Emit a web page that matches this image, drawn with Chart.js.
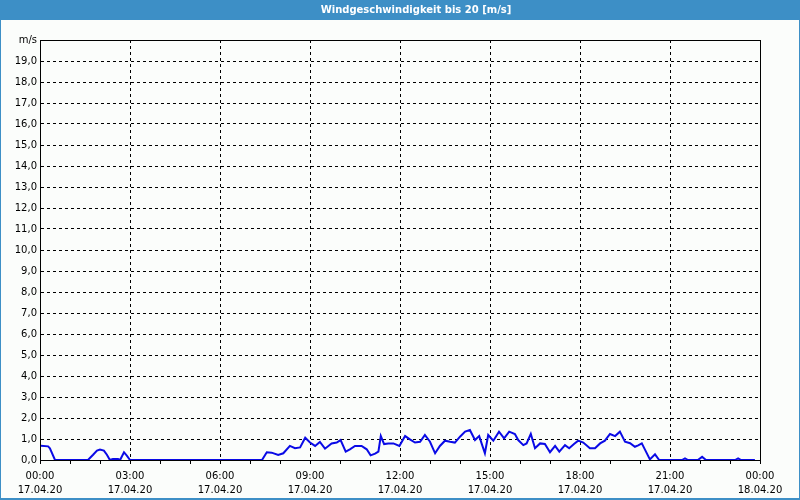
<!DOCTYPE html>
<html>
<head>
<meta charset="utf-8">
<script src="https://cdn.jsdelivr.net/npm/chart.js@4/dist/chart.umd.min.js"></script>
<style>
html,body{margin:0;padding:0;background:#fbfdfb;}
#wrap{width:800px;height:500px;position:relative;}
</style>
</head>
<body>
<div id="wrap"><canvas id="c" width="800" height="500"></canvas></div>
<script>
const chartTitle = 'Windgeschwindigkeit bis 20 [m/s]';
const yUnit = 'm/s';
// time of day in hours since 17.04.20 00:00
const hours = [0.03,0.27,0.33,0.5,1.6,1.77,1.9,2.0,2.13,2.23,2.33,2.43,2.6,2.67,2.8,2.9,3.0,
  7.4,7.56,7.72,7.94,8.11,8.33,8.5,8.67,8.84,9.0,9.17,9.33,9.5,9.72,9.89,10.02,10.19,10.33,10.5,10.72,10.89,
  11.02,11.17,11.28,11.36,11.47,11.61,11.78,11.98,12.17,12.33,12.5,12.67,12.83,13.0,13.17,13.33,13.5,13.67,13.83,
  14.0,14.17,14.33,14.5,14.64,14.72,14.83,14.94,15.11,15.3,15.47,15.64,15.83,15.94,16.11,16.22,16.36,16.5,16.67,16.83,
  17.0,17.17,17.31,17.5,17.64,17.8,17.94,18.11,18.33,18.5,18.67,18.83,19.0,19.17,19.33,19.5,19.67,19.83,19.94,
  20.06,20.17,20.33,20.5,20.64,21.4,21.5,21.6,21.93,22.07,22.2,23.17,23.27,23.37,23.83];
const speeds = [0.68,0.65,0.56,0,0,0.25,0.45,0.5,0.45,0.25,0,0.05,0.05,0,0.37,0.2,0,
  0,0.37,0.35,0.24,0.32,0.67,0.56,0.6,1.06,0.83,0.67,0.86,0.54,0.79,0.83,0.95,0.4,0.51,0.67,0.67,0.51,
  0.22,0.3,0.4,1.14,0.76,0.79,0.79,0.67,1.14,0.98,0.83,0.87,1.19,0.87,0.32,0.67,0.92,0.87,0.83,
  1.11,1.35,1.43,0.95,1.14,0.79,0.32,1.19,0.92,1.35,1.03,1.35,1.24,0.95,0.71,0.79,1.24,0.56,0.79,0.76,
  0.37,0.67,0.4,0.71,0.56,0.76,0.92,0.83,0.56,0.56,0.79,0.92,1.24,1.14,1.35,0.87,0.8,0.63,0.7,
  0.79,0.48,0.03,0.27,0,0,0.08,0,0,0.15,0,0,0.08,0,0];
const xTickTimes = ['00:00','03:00','06:00','09:00','12:00','15:00','18:00','21:00','00:00'];
const xTickDates = ['17.04.20','17.04.20','17.04.20','17.04.20','17.04.20','17.04.20','17.04.20','17.04.20','18.04.20'];

const points = hours.map((h, i) => ({x: h, y: speeds[i]}));
const FONT = 'Tahoma, "DejaVu Sans", sans-serif';

const framePlugin = {
  id: 'frame',
  beforeDraw(chart) {
    const ctx = chart.ctx;
    ctx.save();
    ctx.fillStyle = '#fbfdfb';
    ctx.fillRect(0, 0, 800, 500);
    ctx.fillStyle = '#3d8fc6';
    ctx.fillRect(0, 0, 800, 20);
    ctx.strokeStyle = '#3d8fc6';
    ctx.lineWidth = 1;
    ctx.strokeRect(0.5, 0.5, 799, 498.5);
    ctx.fillRect(0, 498, 800, 2);
    ctx.restore();
  },
  beforeDatasetsDraw(chart) {
    const a = chart.chartArea, ctx = chart.ctx;
    ctx.save();
    ctx.strokeStyle = '#000';
    ctx.lineWidth = 1;
    ctx.beginPath();
    ctx.moveTo(Math.round(a.left) + 0.5, Math.round(a.top) + 0.5);
    ctx.lineTo(Math.round(a.right) + 0.5, Math.round(a.top) + 0.5);
    ctx.lineTo(Math.round(a.right) + 0.5, Math.round(a.bottom) + 0.5);
    ctx.stroke();
    ctx.restore();
  }
};

new Chart(document.getElementById('c'), {
  type: 'line',
  data: {
    datasets: [{
      data: points,
      yAxisID: 'y',
      borderColor: '#0a0ae6',
      borderWidth: 2,
      pointRadius: 0,
      tension: 0,
      fill: false
    }]
  },
  options: {
    responsive: false,
    animation: false,
    devicePixelRatio: 1,
    layout: {padding: {top: 0, right: -32, bottom: 0, left: 0}},
    plugins: {
      legend: {display: false},
      tooltip: {enabled: false},
      title: {
        display: true,
        text: chartTitle,
        color: '#ffffff',
        font: {family: FONT, size: 10, weight: 'bold', lineHeight: 1.2},
        padding: {top: 4, bottom: 24}
      }
    },
    scales: {
      x: {
        type: 'linear',
        min: 0, max: 24,
        afterFit(s) { s.height = 40; },
        ticks: {
          stepSize: 1,
          autoSkip: false,
          maxRotation: 0,
          padding: 5,
          color: '#000',
          font: {family: FONT, size: 10, lineHeight: 1.4},
          callback(v) {
            if (v % 3 !== 0) return '';
            return [xTickTimes[v / 3], xTickDates[v / 3]];
          }
        },
        grid: {
          color: c => (c.tick && c.tick.value % 3 === 0) ? '#000' : 'rgba(0,0,0,0)',
          tickColor: '#000',
          tickLength: 4,
          lineWidth: 1
        },
        border: {display: true, color: '#000', width: 1, dash: [3, 3]}
      },
      y: {
        min: 0, max: 20,
        afterFit(s) { s.width = 40; },
        ticks: {
          stepSize: 1,
          autoSkip: false,
          padding: 3,
          color: '#000',
          font: {family: FONT, size: 10},
          callback(v) { return v === 20 ? yUnit : v.toFixed(1).replace('.', ','); }
        },
        grid: {
          color: '#000',
          drawTicks: false,
          lineWidth: 1
        },
        border: {display: true, color: '#000', width: 1, dash: [3, 3]}
      },
      yRight: {
        position: 'right',
        min: 0, max: 20,
        afterFit(s) { s.width = 72; },
        ticks: {display: false},
        grid: {drawOnChartArea: false, drawTicks: false},
        border: {display: false}
      }
    }
  },
  plugins: [framePlugin]
});
</script>
</body>
</html>
